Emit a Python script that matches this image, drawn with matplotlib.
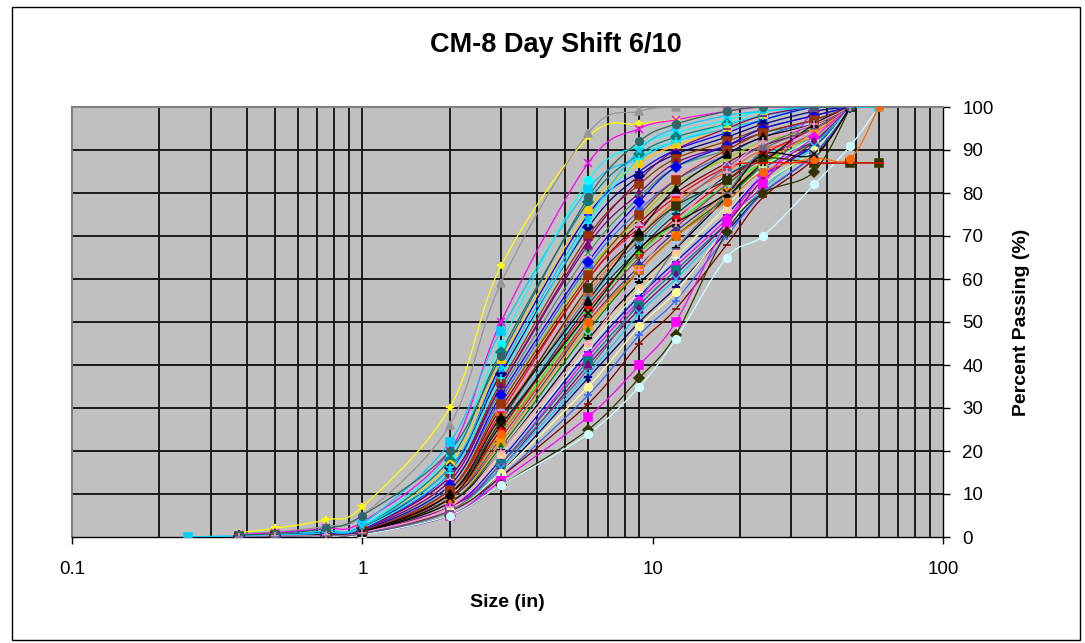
import numpy as np
import matplotlib
matplotlib.use("Agg")
import matplotlib.pyplot as plt
from matplotlib.ticker import FixedLocator, NullFormatter
from matplotlib.patches import Rectangle

na = np.nan

# ---------------- data ----------------
sizes = [0.25, 0.375, 0.5, 0.75, 1, 2, 3, 6, 9, 12, 18, 24, 36, 48, 60]

p01 = [na, 1.0, 2.0, 4.0, 7.0, 30, 63, 93, 96, 97, 99, 100, 100, 100, na]
p02 = [na, 0.8, 1.2, 2.5, 5.0, 26, 59, 94, 99, 100, 100, 100, 100, 100, na]
p03 = [na, 0.5, 1.0, 2.0, 3.5, 20, 50, 87, 95, 97, 99, 100, 100, 100, na]
p04 = [0, 0.3, 0.5, 1.5, 3.0, 22, 48, 81, 88, 92, 95, 97, 100, 100, 100]
p05 = [na, 0.3, 0.5, 1.0, 2.5, 19, 45, 83, 91, 94, 97, 99, 100, 100, na]
p06 = [na, 0.3, 0.5, 1.0, 2.2, 18, 43, 78, 89, 93, 96, 98, 100, 100, na]
p07 = [na, 0.3, 0.5, 1.0, 2.0, 17, 41, 76, 87, 91, 95, 98, 100, 100, na]
p08 = [na, 0.2, 0.5, 1.0, 2.0, 15, 40, 75, 85, 90, 94, 97, 100, 100, na]
p09 = [na, 0.2, 0.4, 1.0, 2.0, 16, 38, 72, 84, 89, 93, 96, 99, 100, na]
p10 = [na, 0.2, 0.4, 0.8, 1.8, 14, 36, 70, 82, 88, 92, 95, 98, 100, na]
p11 = [na, 0.2, 0.4, 0.8, 1.8, 14, 35, 68, 80, 87, 91, 94, 97, 100, na]
p12 = [na, 0.2, 0.4, 0.8, 1.6, 13, 34, 66, 79, 86, 90, 94, 96, 100, na]
p13 = [na, 0.2, 0.3, 0.7, 1.6, 13, 33, 65, 77, 84, 90, 93, 96, 100, na]
p14 = [na, 0.1, 0.3, 0.7, 1.5, 12, 32, 63, 76, 83, 89, 93, 97, 100, na]
p15 = [na, 0.1, 0.3, 0.7, 1.5, 12, 31, 62, 74, 82, 88, 92, 95, 100, na]
p16 = [na, 0.1, 0.3, 0.6, 1.4, 11, 30, 60, 73, 80, 87, 91, 95, 100, na]
p17 = [na, 0.1, 0.3, 0.6, 1.4, 11, 29, 58, 72, 79, 86, 90, 94, 100, na]
p18 = [na, 0.1, 0.3, 0.6, 1.3, 10, 28, 57, 70, 78, 85, 90, 93, 100, na]
p19 = [na, 0.1, 0.2, 0.6, 1.3, 10, 27, 56, 69, 77, 86, 91, 96, 100, na]
p20 = [na, 0.1, 0.2, 0.5, 1.3, 11, 26, 55, 68, 76, 84, 89, 93, 100, na]
p21 = [na, 0.1, 0.2, 0.5, 1.2, 9, 25, 54, 67, 75, 84, 88, 92, 100, na]
p22 = [na, 0.1, 0.2, 0.5, 1.2, 10, 25, 53, 66, 74, 83, 89, 95, 100, na]
p23 = [na, 0.1, 0.2, 0.5, 1.2, 9, 24, 52, 66, 73, 82, 87, 93, 100, na]
p24 = [na, 0.1, 0.2, 0.5, 1.1, 9, 23, 51, 65, 72, 82, 88, 94, 100, na]
p25 = [na, 0.1, 0.2, 0.4, 1.1, 9, 22, 50, 63, 71, 80, 86, 91, 100, na]
p26 = [na, 0.1, 0.2, 0.4, 1.1, 8, 22, 49, 62, 70, 80, 87, 94, 100, na]
p27 = [na, 0.1, 0.2, 0.4, 1.0, 8, 21, 48, 62, 70, 79, 86, 92, 100, na]
p28 = [na, 0.1, 0.2, 0.4, 1.0, 8, 20, 47, 60, 68, 78, 85, 93, 100, na]
p29 = [na, 0.0, 0.2, 0.4, 1.0, 8, 20, 46, 59, 67, 79, 87, 96, 100, na]
p30 = [na, 0.0, 0.1, 0.4, 1.0, 7, 19, 45, 58, 66, 76, 84, 92, 100, na]
p31 = [na, 0.0, 0.1, 0.3, 0.9, 7, 18, 44, 57, 65, 77, 86, 93, 100, na]
p32 = [na, 0.0, 0.1, 0.3, 0.9, 7, 18, 43, 56, 64, 75, 84, 91, 100, na]
p33 = [na, 0.0, 0.1, 0.3, 0.9, 7, 17, 42, 55, 63, 74, 84, 93, 100, na]
p34 = [na, 0.0, 0.1, 0.3, 0.8, 6, 17, 41, 54, 62, 73, 82, 90, 100, na]
p35 = [na, 0.0, 0.1, 0.3, 0.8, 7, 16, 40, 53, 61, 73, 83, 92, 100, na]
p36 = [na, 0.0, 0.1, 0.3, 0.8, 6, 16, 38, 52, 60, 72, 81, 91, 100, na]
p37 = [na, 0.0, 0.1, 0.2, 0.7, 6, 15, 37, 50, 58, 71, 80, 89, 100, na]
p38 = [na, 0.0, 0.1, 0.2, 0.7, 6, 15, 35, 49, 57, 72, 82, 90, 100, na]
p39 = [na, 0.0, 0.1, 0.2, 0.7, 5, 14, 33, 47, 55, 70, 80, 89, 100, na]
p40 = [na, 0.0, 0.1, 0.2, 0.6, 6, 14, 31, 45, 53, 68, 79, 88, 100, na]
p41 = [na, 0.0, 0.1, 0.2, 0.6, 5, 13, 28, 40, 50, 73, 82, 100, na, na]
p42 = [na, 0.0, 0.1, 0.2, 0.6, 5, 12, 25, 37, 47, 71, 80, 85, 100, na]
p43 = [na, 0.0, 0.1, 0.2, 0.5, 5, 12, 24, 35, 46, 65, 70, 82, 91, 100]
p44 = [na, 0.1, 0.2, 0.5, 1.2, 10, 27, 58, 70, 77, 83, 88, 87, 87, 87]
p45 = [na, 0.1, 0.2, 0.5, 1.2, 11, 29, 60, 72, 79, 86, 87, 87, 87, 87]
p46 = [na, 0.1, 0.2, 0.5, 1.2, 9, 24, 50, 62, 70, 78, 85, 88, 88, 100]
p47 = [na, 0.2, 0.4, 0.9, 2.0, 15, 37, 73, 88, 92, 96, 98, 100, 100, na]
p48 = [na, 0.2, 0.3, 0.8, 1.7, 13, 35, 69, 83, 90, 95, 98, 100, 100, na]
p49 = [na, 0.1, 0.3, 0.7, 1.5, 12, 33, 64, 78, 86, 91, 95, 98, 100, na]
p50 = [na, 0.1, 0.3, 0.6, 1.4, 11, 31, 61, 75, 83, 90, 94, 97, 100, na]
p51 = [na, 0.1, 0.2, 0.5, 1.2, 10, 28, 55, 71, 81, 89, 93, 96, 100, na]
p52 = [na, 0.1, 0.2, 0.5, 1.2, 9, 26, 52, 67, 73, 80, 89, 89, 100, na]
p53 = [na, 0.2, 0.4, 1.0, 2.5, 16, 39, 74, 90, 95, 98, 99, 100, 100, na]
p54 = [na, 0.5, 0.8, 2.0, 5.0, 20, 42, 79, 92, 96, 99, 100, 100, 100, na]
p55 = [na, 0.1, 0.2, 0.4, 1.0, 7, 20, 45, 62, 73, 85, 92, 96, 100, na]
p56 = [na, 0.0, 0.1, 0.3, 0.8, 6, 17, 39, 55, 67, 80, 90, 95, 100, na]

series = [p01, p02, p03, p04, p05, p06, p07, p08, p09, p10, p11, p12, p13, p14,
          p15, p16, p17, p18, p19, p20, p21, p22, p23, p24, p25, p26, p27, p28,
          p29, p30, p31, p32, p33, p34, p35, p36, p37, p38, p39, p40, p41, p42,
          p43, p44, p45, p46, p47, p48, p49, p50, p51, p52, p53, p54, p55, p56]

x_ticks = [0.1, 1, 10, 100]
x_tick_labels = ["0.1", "1", "10", "100"]
y_ticks = [0, 10, 20, 30, 40, 50, 60, 70, 80, 90, 100]
title_text = "CM-8 Day Shift 6/10"
x_label = "Size (in)"
y_label = "Percent Passing (%)"

# ---------------- style ----------------
colors = ['#FFFF00', '#969696', '#FF00FF', '#00CCFF', '#00FFFF', '#008080', '#FFCC00',
          '#0000FF', '#000080', '#993300', '#800080', '#339966', '#FF99CC', '#3366FF',
          '#99CC00', '#800000', '#CC99FF', '#FF6600', '#666699', '#33CCCC', '#003366',
          '#FF0000', '#00FF00', '#993366', '#333399', '#FF9900', '#008000', '#99CCFF',
          '#000000', '#FFCC99', '#CCFFCC', '#0000FF', '#FF00FF', '#008080', '#800080',
          '#00CCFF', '#000080', '#FFFF99', '#3366FF', '#800000', '#FF00FF', '#333300',
          '#CCFFFF', '#333300', '#FF0000', '#FF6600', '#00FFFF', '#800080', '#0000FF',
          '#993300', '#000000', '#000000', '#00CCFF', '#336666', '#FF99CC', '#666699']
marker_cycle = ['D', 's', '^', 'x', '*', 'o', '+', '_']
markers = [marker_cycle[i % len(marker_cycle)] for i in range(len(series))]
markers[0] = '*'; markers[1] = '^'; markers[2] = 'x'; markers[3] = 's'
markers[4] = 'o'; markers[5] = 'D'; markers[6] = 'o'; markers[40] = 's'
markers[41] = 'D'; markers[42] = 'o'; markers[43] = 's'; markers[44] = '_'


def smooth_path(xs, ys, steps=14):
    """Excel-style smoothed line (Catmull-Rom Bezier) drawn in log-x space."""
    u = np.log10(xs)
    v = np.asarray(ys, dtype=float)
    n = len(u)
    if n < 3:
        return xs, ys
    P = np.column_stack([u, v])
    out = [P[0]]
    t = np.linspace(0, 1, steps)[1:]
    for i in range(n - 1):
        p0 = P[i - 1] if i > 0 else P[i]
        p1 = P[i]
        p2 = P[i + 1]
        p3 = P[i + 2] if i + 2 < n else P[i + 1]
        c1 = p1 + (p2 - p0) / 6.0
        c2 = p2 - (p3 - p1) / 6.0
        for tt in t:
            b = ((1 - tt) ** 3) * p1 + 3 * ((1 - tt) ** 2) * tt * c1 \
                + 3 * (1 - tt) * tt ** 2 * c2 + tt ** 3 * p2
            out.append(b)
    out = np.array(out)
    return 10 ** out[:, 0], out[:, 1]


plt.rcParams['font.family'] = ['Liberation Sans', 'DejaVu Sans']

fig = plt.figure(figsize=(10.85, 6.43), dpi=100)
fig.patch.set_facecolor('white')
fig.add_artist(Rectangle((12 / 1085, 3 / 643), 1068 / 1085, 633 / 643,
                         transform=fig.transFigure, fill=False,
                         edgecolor='black', linewidth=1.0))

ax = fig.add_axes([72 / 1085, 106 / 643, 871 / 1085, 430 / 643])
ax.set_facecolor('#C0C0C0')

for vals, c, m in zip(series, colors, markers):
    y = np.array(vals, dtype=float)
    x = np.array(sizes, dtype=float)
    ok = ~np.isnan(y)
    sx, sy = smooth_path(x[ok], y[ok])
    ax.plot(sx, sy, color=c, linewidth=0.9, zorder=3)
    ax.plot(x[ok], y[ok], linestyle='none', marker=m, markersize=5.5,
            markerfacecolor=c, markeredgecolor=c, markeredgewidth=1.1, zorder=4)

ax.set_xscale('log')
ax.set_xlim(0.1, 100)
ax.set_ylim(0, 100)

# grid
grid_x = [0.2, 0.3, 0.4, 0.5, 0.6, 0.7, 0.8, 0.9, 1, 2, 3, 4, 5, 6, 7, 8, 9,
          20, 30, 40, 50, 60, 70, 80, 90]
ax.xaxis.set_major_locator(FixedLocator(x_ticks))
ax.set_xticklabels(x_tick_labels)
ax.xaxis.set_minor_locator(FixedLocator(grid_x))
ax.xaxis.set_minor_formatter(NullFormatter())
ax.xaxis.remove_overlapping_locs = False
ax.grid(False)
for gx in grid_x:
    ax.axvline(gx, color='#1a1a1a', linewidth=1.4, zorder=1)
for gy in y_ticks[1:-1]:
    ax.axhline(gy, color='#1a1a1a', linewidth=1.4, zorder=1)

ax.tick_params(axis='x', which='minor', length=0)
ax.tick_params(axis='x', which='major', direction='out', length=5, width=1,
               pad=12, labelsize=13.5, colors='black')

ax.yaxis.tick_right()
ax.yaxis.set_label_position('right')
ax.set_yticks(y_ticks)
ax.tick_params(axis='y', which='major', direction='out', length=5, width=1,
               pad=9, labelsize=13.5, colors='black')

for side in ['top', 'left']:
    ax.spines[side].set_color('#808080')
    ax.spines[side].set_linewidth(1.5)
for side in ['bottom', 'right']:
    ax.spines[side].set_color('black')
    ax.spines[side].set_linewidth(1.0)

ax.set_xlabel(x_label, fontsize=14, fontweight='bold', labelpad=12)
ax.set_ylabel(y_label, fontsize=14, fontweight='bold', labelpad=14, rotation=90)

fig.text(556 / 1085, 1 - 45 / 643, title_text, fontsize=19.5, fontweight='bold',
         ha='center', va='center')

fig.savefig('out.png', dpi=100)
